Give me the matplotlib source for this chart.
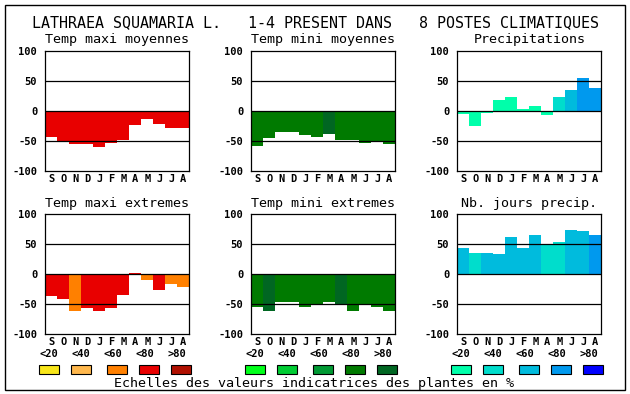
import matplotlib.pyplot as plt
from matplotlib.patches import Rectangle

# Data
months = ['S', 'O', 'N', 'D', 'J', 'F', 'M', 'A', 'M', 'J', 'J', 'A']
scaleLabels = ['<20', '<40', '<60', '<80', '>80']

maxiMoy = [-43, -50, -56, -56, -61, -54, -48, -23, -14, -22, -28, -28]
miniMoy = [-58, -46, -36, -36, -40, -44, -38, -48, -48, -53, -50, -56]
precip = [-6, -26, -4, 17, 23, 2, 7, -8, 23, 35, 55, 37]
maxiExt = [-36, -42, -61, -56, -62, -56, -34, 2, -10, -26, -16, -22]
miniExt = [-55, -62, -46, -47, -55, -50, -47, -52, -62, -50, -54, -62]
joursPrecip = [44, 36, 36, 34, 62, 44, 66, 50, 54, 74, 72, 66]

# Class (0-4) of each bar, index into the palette of its panel
maxiMoyClass = [3] * 12
miniMoyClass = [3, 3, 3, 3, 3, 3, 4, 3, 3, 3, 3, 3]
precipClass = [0, 0, 0, 0, 0, 0, 0, 0, 1, 2, 3, 3]
maxiExtClass = [3, 3, 2, 3, 3, 3, 3, 3, 2, 3, 2, 2]
miniExtClass = [3, 4, 3, 3, 3, 3, 3, 4, 3, 3, 3, 3]
joursClass = [2, 1, 2, 2, 2, 2, 2, 1, 1, 2, 2, 3]

redPalette = ['#f8e61a', '#ffb84d', '#ff8000', '#e80000', '#b01000']
greenPalette = ['#00ff1a', '#00cc33', '#009933', '#007a00', '#006622']
bluePalette = ['#00ffaa', '#00ddcc', '#00bbdd', '#0099ee', '#0000ff']

W, H = 630, 394
mono = 'DejaVu Sans Mono'


def fx(x):
    return x / W


def fy(y):
    return 1 - y / H


fig = plt.figure(figsize=(W / 100, H / 100), dpi=100)

# outer frame
fig.add_artist(Rectangle((fx(4.5), fy(389.5)), fx(620), 385 / H, transform=fig.transFigure,
                         fill=False, edgecolor='black', linewidth=1.0))

fig.text(fx(315), fy(27.5), 'LATHRAEA SQUAMARIA L.   1-4 PRESENT DANS   8 POSTES CLIMATIQUES',
         ha='center', va='baseline', fontsize=10.8, family=mono)

panels = [
    ('Temp maxi moyennes', maxiMoy, maxiMoyClass, redPalette, 45.3, 50.7),
    ('Temp mini moyennes', miniMoy, miniMoyClass, greenPalette, 251.3, 50.7),
    ('Precipitations', precip, precipClass, bluePalette, 457.3, 50.7),
    ('Temp maxi extremes', maxiExt, maxiExtClass, redPalette, 45.3, 214.3),
    ('Temp mini extremes', miniExt, miniExtClass, greenPalette, 251.3, 214.3),
    ('Nb. jours precip.', joursPrecip, joursClass, bluePalette, 457.3, 214.3),
]

axW, axH = 144, 120

for title, values, classes, palette, left, top in panels:
    ax = fig.add_axes([fx(left), fy(top + axH), axW / W, axH / H])
    ax.bar(range(12), values, width=1.0, color=[palette[c] for c in classes], linewidth=0, zorder=1)
    for level in [50, 0, -50]:
        ax.axhline(level, color='black', linewidth=0.9, zorder=2)
    ax.set_xlim(-0.5, 11.5)
    ax.set_ylim(-100, 100)
    ax.set_yticks([100, 50, 0, -50, -100])
    ax.set_yticklabels(['100', '50', '0', '-50', '-100'], family=mono, fontweight='bold', fontsize=7.5)
    ax.set_xticks(range(12))
    ax.set_xticklabels(months, family=mono, fontweight='bold', fontsize=7.5)
    ax.tick_params(axis='y', length=0, pad=5.8)
    ax.tick_params(axis='x', length=0, pad=2.2)
    for spine in ax.spines.values():
        spine.set_linewidth(0.9)
    fig.text(fx(left + axW / 2), fy(top - 7.4), title, ha='center', va='baseline',
             fontsize=9.6, family=mono)

# colour scales under the bottom row
boxOffsets = [-6, 26, 62, 94, 126]
labelOffsets = [4, 36, 68, 100, 132]
for palette, left in [(redPalette, 45.3), (greenPalette, 251.3), (bluePalette, 457.3)]:
    for i in range(5):
        fig.text(fx(left + labelOffsets[i]), fy(354), scaleLabels[i], ha='center', va='center',
                 fontsize=7.5, family=mono, fontweight='bold')
        fig.add_artist(Rectangle((fx(left + boxOffsets[i]), fy(373.5)), fx(20), 9 / H,
                                 transform=fig.transFigure, facecolor=palette[i],
                                 edgecolor='black', linewidth=0.8))

fig.text(fx(314.5), fy(386.5), 'Echelles des valeurs indicatrices des plantes en %',
         ha='center', va='baseline', fontsize=9.6, family=mono)

plt.savefig('out.png', dpi=100)
